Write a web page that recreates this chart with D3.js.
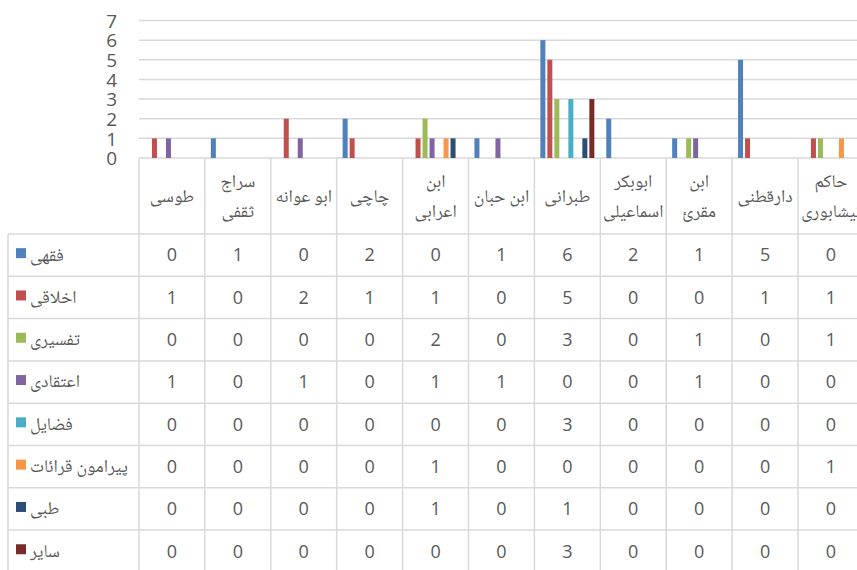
<!DOCTYPE html>
<html>
<head>
<meta charset="utf-8">
<script src="https://cdn.jsdelivr.net/npm/d3@7"></script>
<style>
  body { margin: 0; background: #fff; }
  svg text { fill: #595959; }
</style>
</head>
<body>
<div id="chart"></div>
<script>
// categories, each one split into the lines shown in the header cell
let categories = ["طوسی", "سراج ثقفی", "ابو عوانه", "چاچی", "ابن اعرابی", "ابن حبان",
  "طبرانی", "ابوبکر اسماعیلی", "ابن مقرئ", "دارقطنی", "حاکم نیشابوری"];
let categoryLines = [["طوسی"], ["سراج", "ثقفی"], ["ابو عوانه"], ["چاچی"], ["ابن", "اعرابی"],
  ["ابن حبان"], ["طبرانی"], ["ابوبکر", "اسماعیلی"], ["ابن", "مقرئ"], ["دارقطنی"], ["حاکم", "نیشابوری"]];

let seriesNames = ["فقهی", "اخلاقی", "تفسیری", "اعتقادی", "فضایل", "پیرامون قرائات", "طبی", "سایر"];

let fiqhi    = [0, 1, 0, 2, 0, 1, 6, 2, 1, 5, 0];
let akhlaqi  = [1, 0, 2, 1, 1, 0, 5, 0, 0, 1, 1];
let tafsiri  = [0, 0, 0, 0, 2, 0, 3, 0, 1, 0, 1];
let etiqadi  = [1, 0, 1, 0, 1, 1, 0, 0, 1, 0, 0];
let fazayel  = [0, 0, 0, 0, 0, 0, 3, 0, 0, 0, 0];
let qaraat   = [0, 0, 0, 0, 1, 0, 0, 0, 0, 0, 1];
let tebbi    = [0, 0, 0, 0, 1, 0, 1, 0, 0, 0, 0];
let sayer    = [0, 0, 0, 0, 0, 0, 3, 0, 0, 0, 0];

let seriesValues = [fiqhi, akhlaqi, tafsiri, etiqadi, fazayel, qaraat, tebbi, sayer];
let colors = ["#4F81BD", "#C0504D", "#9BBB59", "#8064A2", "#4BACC6", "#F79646", "#2C4D75", "#772C2A"];

let yTicks = [0, 1, 2, 3, 4, 5, 6, 7];

let svgWidth = 857;
let svgHeight = 570;

let plotLeft = 139;
let colWidth = 65.9;
let tableLeft = 8;
let headerTop = 158;
let headerBottom = 234;
let rowHeight = 42.3;

let svg = d3.select("#chart")
  .append("svg")
  .attr("width", svgWidth)
  .attr("height", svgHeight);

let arabicFont = "'Noto Naskh Arabic', 'Noto Sans Arabic', 'DejaVu Sans', sans-serif";
let numFont = "'Open Sans', 'Noto Sans', sans-serif";

// scales
let x0 = d3.scaleBand()
  .domain(categories)
  .range([plotLeft, plotLeft + colWidth * categories.length]);

let x1 = d3.scaleBand()
  .domain(seriesNames)
  .range([0, colWidth])
  .paddingInner(2 / 7)
  .paddingOuter(0.85);

let y = d3.scaleLinear()
  .domain([0, 7])
  .range([headerTop, 20.5]);

// gridlines
svg.append("g")
  .selectAll("line")
  .data(yTicks)
  .enter()
  .append("line")
  .attr("x1", plotLeft)
  .attr("x2", svgWidth)
  .attr("y1", d => y(d))
  .attr("y2", d => y(d))
  .attr("stroke", "#d9d9d9")
  .attr("stroke-width", 1.5);

// y axis labels
let yAxis = svg.append("g")
  .attr("transform", `translate(${plotLeft - 22}, 0)`)
  .call(d3.axisLeft(y).tickValues(yTicks).tickFormat(d3.format("d")).tickSize(0).tickPadding(0));
yAxis.select(".domain").remove();
yAxis.selectAll("text")
  .attr("font-family", numFont)
  .attr("font-size", 19)
  .attr("dy", "0.36em")
  .attr("fill", "#595959");

// bars
let barGroups = svg.append("g")
  .selectAll("g")
  .data(categories)
  .enter()
  .append("g")
  .attr("transform", d => `translate(${x0(d)}, 0)`);

barGroups.selectAll("rect")
  .data((d, i) => seriesNames.map((s, j) => ({ series: s, value: seriesValues[j][i], color: colors[j] })))
  .enter()
  .append("rect")
  .attr("x", d => x1(d.series))
  .attr("width", x1.bandwidth())
  .attr("y", d => y(d.value))
  .attr("height", d => y(0) - y(d.value))
  .attr("fill", d => d.color);

// data table
let table = svg.append("g");
let tableRight = plotLeft + colWidth * categories.length;
let tableBottom = headerBottom + rowHeight * seriesNames.length;

// vertical lines
let vLines = d3.range(categories.length + 1).map(i => plotLeft + colWidth * i);
table.selectAll(".vline")
  .data(vLines)
  .enter()
  .append("line")
  .attr("x1", d => d)
  .attr("x2", d => d)
  .attr("y1", headerTop)
  .attr("y2", tableBottom)
  .attr("stroke", "#d9d9d9")
  .attr("stroke-width", 1.5);

table.append("line")
  .attr("x1", tableLeft)
  .attr("x2", tableLeft)
  .attr("y1", headerBottom)
  .attr("y2", tableBottom)
  .attr("stroke", "#d9d9d9")
  .attr("stroke-width", 1.5);

// horizontal lines
let hLines = d3.range(seriesNames.length + 1).map(i => headerBottom + rowHeight * i);
table.selectAll(".hline")
  .data(hLines)
  .enter()
  .append("line")
  .attr("x1", tableLeft)
  .attr("x2", tableRight)
  .attr("y1", d => d)
  .attr("y2", d => d)
  .attr("stroke", "#d9d9d9")
  .attr("stroke-width", 1.5);

// header labels
categories.forEach(function(c, i) {
  let lines = categoryLines[i];
  let cx = x0(c) + colWidth / 2;
  let cy = (headerTop + headerBottom) / 2;
  let lineGap = 30;
  lines.forEach(function(line, k) {
    table.append("text")
      .attr("x", cx)
      .attr("y", cy + (k - (lines.length - 1) / 2) * lineGap)
      .attr("dy", "0.35em")
      .attr("text-anchor", "middle")
      .attr("font-family", arabicFont)
      .attr("font-size", 18)
      .text(line);
  });
});

// legend keys and series names
seriesNames.forEach(function(s, j) {
  let cy = headerBottom + rowHeight * j + rowHeight / 2;
  table.append("rect")
    .attr("x", 16)
    .attr("y", cy - 7)
    .attr("width", 10)
    .attr("height", 10)
    .attr("fill", colors[j]);
  table.append("text")
    .attr("x", 30)
    .attr("y", cy)
    .attr("dy", "0.3em")
    .attr("text-anchor", "start")
    .attr("font-family", arabicFont)
    .attr("font-size", 18)
    .text(s);

  // values
  categories.forEach(function(c, i) {
    table.append("text")
      .attr("x", x0(c) + colWidth / 2)
      .attr("y", cy)
      .attr("dy", "0.35em")
      .attr("text-anchor", "middle")
      .attr("font-family", numFont)
      .attr("font-size", 18)
      .text(seriesValues[j][i]);
  });
});
</script>
</body>
</html>
